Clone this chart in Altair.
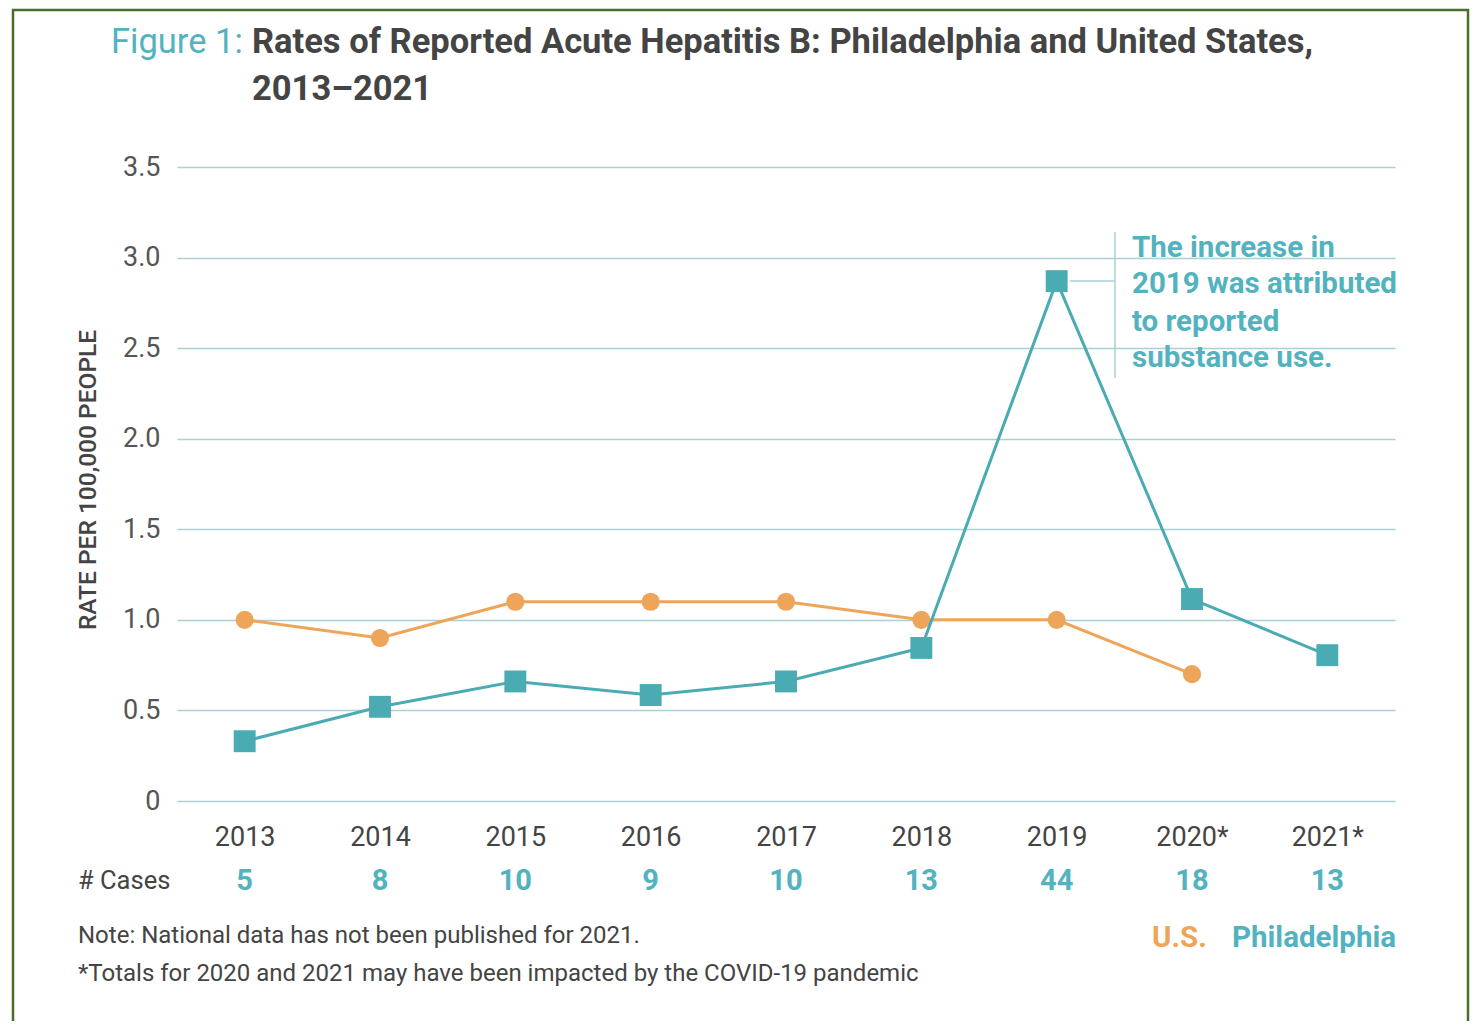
import altair as alt
import pandas as pd

years = ["2013", "2014", "2015", "2016", "2017", "2018", "2019", "2020*", "2021*"]
philadelphia = [0.33, 0.52, 0.66, 0.585, 0.66, 0.845, 2.87, 1.115, 0.805]
us = [1.0, 0.9, 1.1, 1.1, 1.1, 1.0, 1.0, 0.7, None]
cases = [5, 8, 10, 9, 10, 13, 44, 18, 13]

TEAL = "#4aabb3"
TEAL_TXT = "#52b3bf"
ORANGE = "#eea55a"
GRID = "#a9d0d4"
DARK = "#444444"
FONT = "Roboto"

W, H = 1218, 634

rows = []
for i, y in enumerate(years):
    rows.append({"year": y, "series": "Philadelphia", "rate": philadelphia[i]})
    if us[i] is not None:
        rows.append({"year": y, "series": "U.S.", "rate": us[i]})
df = pd.DataFrame(rows)
df_cases = pd.DataFrame({"year": years, "cases": cases})

xenc = alt.X("year:N", sort=years,
             scale=alt.Scale(type="point", padding=0.5),
             axis=alt.Axis(title=None, domain=False, ticks=False, labelAngle=0,
                           labelFont=FONT, labelFontSize=27, labelColor=DARK,
                           labelPadding=23, grid=False))
yenc = alt.Y("rate:Q", scale=alt.Scale(domain=[0, 3.5], nice=False),
             axis=alt.Axis(title=None, domain=False, ticks=False,
                           values=[0, 0.5, 1, 1.5, 2, 2.5, 3, 3.5],
                           labelExpr="datum.value == 0 ? '0' : format(datum.value, '.1f')",
                           labelFont=FONT, labelFontSize=27, labelColor="#555555",
                           labelPadding=17, gridColor=GRID, gridWidth=1.5))

us_df = df[df.series == "U.S."]
ph_df = df[df.series == "Philadelphia"]

us_line = alt.Chart(us_df).mark_line(color=ORANGE, strokeWidth=3).encode(x=xenc, y=yenc)
us_pts = alt.Chart(us_df).mark_point(shape="circle", filled=True, opacity=1,
                                     color=ORANGE, size=330).encode(x=xenc, y=yenc)
ph_line = alt.Chart(ph_df).mark_line(color=TEAL, strokeWidth=3).encode(x=xenc, y=yenc)
ph_pts = alt.Chart(ph_df).mark_point(shape="square", filled=True, opacity=1,
                                     color=TEAL, size=480).encode(x=xenc, y=yenc)

cases_txt = alt.Chart(df_cases).mark_text(font=FONT, fontSize=29, fontWeight="bold",
                                          color=TEAL_TXT, baseline="middle").encode(
    x=alt.X("year:N", sort=years, scale=alt.Scale(type="point", padding=0.5)),
    y=alt.value(714), text="cases:N")

# annotation connector
ann_df = pd.DataFrame({"year": ["2019"], "rate": [philadelphia[6]]})
ann_h = alt.Chart(ann_df).mark_rule(color=GRID, strokeWidth=1.5).encode(
    x=alt.value(893), x2=alt.value(938), y=alt.Y("rate:Q", scale=alt.Scale(domain=[0, 3.5], nice=False)))
ann_v = alt.Chart(ann_df).mark_rule(color=GRID, strokeWidth=1.5).encode(
    x=alt.value(938), y=alt.value(65), y2=alt.value(211))


def txt(text, x, y, size, color=DARK, weight="normal", align="left", angle=0):
    d = pd.DataFrame({"t": [text]})
    return alt.Chart(d).mark_text(font=FONT, fontSize=size, fontWeight=weight, color=color,
                                  align=align, baseline="middle", angle=angle).encode(
        x=alt.value(x), y=alt.value(y), text="t:N")


ann_lines = ["The increase in", "2019 was attributed", "to reported", "substance use."]
ann_layers = [txt(s, 955, yy, 29.5, TEAL_TXT, "bold") for s, yy in zip(ann_lines, [81, 117, 155, 191])]

texts = [
    txt("Figure 1:", -66, -124, 34.5, TEAL_TXT, "normal"),
    txt("Rates of Reported Acute Hepatitis B: Philadelphia and United States,", 75, -124, 34.5, DARK, "bold"),
    txt("2013\u20132021", 75, -77, 34.5, DARK, "bold"),
    txt("RATE PER 100,000 PEOPLE", -88, H / 2 - 4, 24.5, DARK, 500, "center", 270),
    txt("# Cases", -99, 714, 25.5, DARK, "normal"),
    txt("Note: National data has not been published for 2021.", -99, 769, 24, DARK),
    txt("*Totals for 2020 and 2021 may have been impacted by the COVID-19 pandemic", -99, 807, 24, DARK),
    txt("U.S.", 975, 771, 29.5, ORANGE, "bold"),
    txt("Philadelphia", 1055, 771, 29.5, TEAL_TXT, "bold"),
]

border = alt.Chart(pd.DataFrame({"a": [0]})).mark_rect(
    fillOpacity=0, stroke="#4b6b2f", strokeWidth=2.5).encode(
    x=alt.value(-164), x2=alt.value(1291), y=alt.value(-157), y2=alt.value(900))

chart = alt.layer(
    border, us_line, us_pts, ph_line, ph_pts, cases_txt, ann_h, ann_v,
    *ann_layers, *texts
).properties(
    width=W, height=H,
    autosize=alt.AutoSizeParams(type="none"),
    padding={"left": 169, "top": 159, "right": 77, "bottom": 220},
    background="white",
).configure_view(stroke=None)

chart.save("out.html", embed_options={"renderer": "svg", "actions": False})
